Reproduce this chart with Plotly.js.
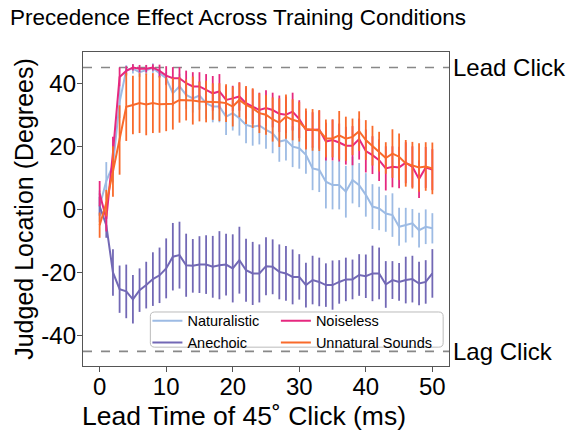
<!DOCTYPE html>
<html>
<head>
<meta charset="utf-8">
<script src="https://cdn.plot.ly/plotly-3.0.1.min.js"></script>
<style>html,body{margin:0;padding:0;background:#fff;}#chart{width:584px;height:440px;}</style>
</head>
<body>
<div id="chart"></div>
<script>
// Lead time (ms)
const leadTime = [0,1,2,3,4,5,6,7,8,9,10,11,12,13,14,15,16,17,18,19,20,21,22,23,24,25,26,27,28,29,30,31,32,33,34,35,36,37,38,39,40,41,42,43,44,45,46,47,48,49,50];

// Series: judged location (degrees) and error half-widths
const naturalistic = [1,9,14,34,44.2,44.6,43.5,44.2,44.8,43.2,41.6,36.8,39,36.3,35.2,36.1,33.7,32.6,32.6,29.4,30.5,28.9,26.8,26.2,26.6,25.2,24.1,21.5,22,19.9,19.4,17.3,13,12.5,8.8,7.7,7.7,5.6,9.3,7.7,4.6,0.9,0.3,-1.3,-1.8,-5.5,-5,-4.4,-6.6,-5.5,-6];
const naturalisticErr = [5,6,5.5,5,1.5,1.5,1.5,1.5,1.5,1.5,2,4,4,4.5,4.5,4.5,5,5,5,5.8,5.5,5.5,5.8,6,6,6,6.3,6.4,6.5,6.5,6.5,6,6.9,7,8.5,7.7,7.7,8.2,7.4,7,6.9,7.1,6.9,5.8,6.9,6,5.5,4.5,5.5,5.5,4.8];

const anechoic = [1,-5,-20,-25.3,-26,-28.5,-25.6,-24,-22.1,-20.9,-18.7,-15,-14.5,-17.7,-17.9,-17.5,-17.5,-18.2,-17.7,-17.5,-18.7,-16.1,-19.3,-20.3,-20.3,-18,-18.2,-19.8,-20.3,-21.4,-21.4,-24,-22.4,-23,-24,-24,-23,-22.2,-22.2,-20.8,-21.2,-20.3,-20.3,-23.8,-22.4,-23,-22.4,-22.1,-23.5,-23,-20.3];
const anechoicErr = [3,4,7.4,7.5,8.5,7.7,6.9,7.4,8.5,8.8,9.5,10.7,10.6,10,8.5,9,9.3,9.8,10.8,9.8,10.8,10.6,10,10,9.2,9.2,8.7,8.7,8.7,8.7,7.2,7.1,7.7,7.7,6.9,7.8,6.9,6.9,6.3,6.6,6.9,8.8,8.2,7.4,6,6,7.4,7.4,6.9,6.9,7.7];

const noiseless = [5,-3,18,42,43.9,45,44.6,44.6,45,43.9,42.4,41.6,41.6,40,39,39,37.9,36.8,37.4,34.7,35.2,35.8,33.7,32.6,31.5,32.1,31.5,30.3,30,31,28.6,25.2,25.2,25.3,21.5,22,21.2,20.2,20.2,22.3,18.5,17.2,15.6,13,13.5,13.3,14.8,13.5,9.6,13.3,12.6];
const noiselessErr = [4,4,5,3,1.5,1,1.2,1.2,1,2,3,3.5,3.5,4,4.5,4.5,5,5.5,5.5,4.5,4,4.5,5,5.5,5.5,5.7,5.5,5.8,5.8,6,6,6,5.6,6,6,6.5,6,6,6.2,6.5,6.8,6,6.6,7,6.5,6.6,6.5,6.5,6,6.5,6.5];

const unnatural = [-5,2,12,22,32.5,33.1,33.7,33.3,33.7,33.3,33.3,33.5,34.7,34.7,34.5,34.2,34.2,34.2,34,33.7,32.6,34.7,33.1,32.1,30.5,30,28.5,27.5,29.4,28.4,27.8,25.5,25.2,25,22.5,22.5,23.5,22.4,23,24.8,22,20.2,18.3,16.3,17.7,16.7,14.6,14,13.3,13.6,13];
const unnaturalErr = [4,4.2,8,11,10.8,9.3,9.5,9.8,9.5,9,8.5,8.2,7.2,6.5,7.6,6.3,6.6,5.8,6,6,6.3,5.5,6,6.3,6.3,6.3,7,7.7,7,6.5,6.3,6.5,6.6,6.5,6,6,7.7,7,5.8,6.3,6.3,6.3,6.3,5,7.7,7.4,7.4,7.4,7.7,7.7,8.2];

const seriesNames = ["Naturalistic","Anechoic","Noiseless","Unnatural Sounds"];
const seriesColors = ["#9dbbe4","#7268b5","#e6287f","#f96a2b"];
const seriesLegend = ["legend","legend","legend2","legend2"];
const seriesValues = [naturalistic, anechoic, noiseless, unnatural];
const seriesErrors = [naturalisticErr, anechoicErr, noiselessErr, unnaturalErr];

const xTicks = [0,10,20,30,40,50];
const yTicks = [-40,-20,0,20,40];
const refLines = [45,-45];
const refLabels = ["Lead Click","Lag Click"];
const xTitle = "Lead Time of 45˚ Click (ms)";

const FONT = "Liberation Sans, Arial, Helvetica, sans-serif";

const traces = seriesNames.map((name, i) => ({
  type: "scatter",
  mode: "lines",
  name: name,
  x: leadTime,
  y: seriesValues[i],
  line: {color: seriesColors[i], width: 2},
  error_y: {type: "data", array: seriesErrors[i], visible: true, color: seriesColors[i], thickness: 1.8, width: 0},
  legend: seriesLegend[i]
}));

// rounded legend frame (paper coords)
const bx0 = 0.184, bx1 = 0.984, by0 = 0.06, by1 = 0.172, rx = 0.012, ry = 0.014;
const framePath = `M ${bx0+rx},${by1} L ${bx1-rx},${by1} Q ${bx1},${by1} ${bx1},${by1-ry} L ${bx1},${by0+ry} Q ${bx1},${by0} ${bx1-rx},${by0} L ${bx0+rx},${by0} Q ${bx0},${by0} ${bx0},${by0+ry} L ${bx0},${by1-ry} Q ${bx0},${by1} ${bx0+rx},${by1} Z`;

const legendCommon = {
  orientation: "v", yanchor: "top", y: 0.195, xanchor: "left",
  bgcolor: "rgba(0,0,0,0)", borderwidth: 0,
  font: {size: 14.5, family: FONT, color: "#000"}, itemwidth: 30, tracegroupgap: 0
};

const layout = {
  width: 584, height: 440,
  paper_bgcolor: "#fff", plot_bgcolor: "#fff",
  font: {family: FONT, color: "#000"},
  margin: {l: 83, r: 135, t: 52, b: 74, pad: 0},
  title: {text: "Precedence Effect Across Training Conditions", x: 0.017, xanchor: "left", xref: "container", y: 0.962, yanchor: "middle", yref: "container", font: {size: 22.5, family: FONT, color: "#000"}},
  xaxis: {
    range: [-2.5, 52.5], tickvals: xTicks, ticktext: xTicks.map(String),
    showgrid: false, zeroline: false, showline: true, mirror: true, linecolor: "#555", linewidth: 1.2,
    ticks: "outside", ticklen: 5, tickcolor: "#555", tickwidth: 1.2, ticklabelstandoff: -6,
    tickfont: {size: 24, family: FONT, color: "#000"}
  },
  yaxis: {
    range: [-49.65, 49.9], tickvals: yTicks, ticktext: yTicks.map(v => v < 0 ? "-" + Math.abs(v) : String(v)),
    showgrid: false, zeroline: false, showline: true, mirror: true, linecolor: "#555", linewidth: 1.2,
    ticks: "outside", ticklen: 5, tickcolor: "#555", tickwidth: 1.2, ticklabelstandoff: -4,
    tickfont: {size: 24, family: FONT, color: "#000"},
    title: {text: "Judged Location (Degrees)", font: {size: 25, family: FONT, color: "#000"}, standoff: 0}
  },
  shapes: refLines.map(v => ({type: "line", xref: "paper", x0: 0, x1: 1, yref: "y", y0: v, y1: v, line: {color: "#888", width: 1.6, dash: "dash"}, layer: "below"}))
    .concat([{type: "path", xref: "paper", yref: "paper", path: framePath, fillcolor: "rgba(255,255,255,0.85)", line: {color: "#bbb", width: 1}, layer: "above"}]),
  annotations: refLines.map((v, i) => ({text: refLabels[i], xref: "paper", x: 1, xanchor: "left", xshift: 2, yref: "y", y: v, yanchor: "middle", showarrow: false, font: {size: 24, family: FONT, color: "#000"}}))
    .concat([{text: xTitle, xref: "paper", x: 0.44, xanchor: "center", yref: "paper", y: -0.158, yanchor: "middle", showarrow: false, font: {size: 26.5, family: FONT, color: "#000"}}]),
  showlegend: true,
  legend: Object.assign({}, legendCommon, {x: 0.176}),
  legend2: Object.assign({}, legendCommon, {x: 0.527})
};

Plotly.newPlot("chart", traces, layout, {displayModeBar: false, staticPlot: true});
</script>
</body>
</html>
